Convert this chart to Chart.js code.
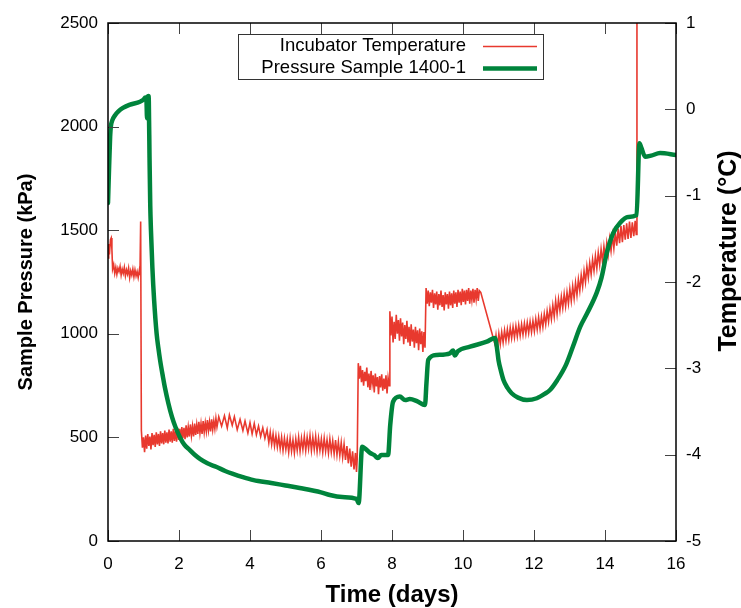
<!DOCTYPE html>
<html lang="en">
<head>
  <meta charset="UTF-8">
  <title>Sample Pressure 1400-1</title>
  <script src="https://cdn.jsdelivr.net/npm/chart.js"></script>
  <style>
    body { margin: 0; background: #fff; }
    #chart-container { width: 741px; height: 608px; }
  </style>
</head>
<body>
  <div id="chart-container">
    <canvas id="pressureChart" width="741" height="608"></canvas>
  </div>
  <script>
    // incubator temperature (°C)
    const tempDays = [
      0.00, 0.02, 0.04, 0.07, 0.09, 0.11, 0.13, 0.16, 0.19, 0.22,
      0.25, 0.28, 0.31, 0.34, 0.37, 0.40, 0.43, 0.46, 0.49, 0.52,
      0.55, 0.58, 0.61, 0.64, 0.67, 0.70, 0.73, 0.76, 0.79, 0.82,
      0.85, 0.88, 0.90, 0.92, 0.94,
      0.97, 1.00, 1.03, 1.06, 1.09, 1.12, 1.15, 1.18, 1.21, 1.24,
      1.27, 1.30, 1.33, 1.36, 1.39, 1.42, 1.45, 1.48, 1.51, 1.54,
      1.57, 1.60, 1.63, 1.66, 1.69, 1.72, 1.75, 1.78, 1.81, 1.84,
      1.87, 1.90, 1.93, 1.96, 1.99, 2.02, 2.05, 2.08, 2.11, 2.14,
      2.17, 2.20, 2.23, 2.26, 2.29, 2.32, 2.35, 2.38, 2.41, 2.44,
      2.47, 2.50, 2.53, 2.56, 2.59, 2.62, 2.65, 2.68, 2.71, 2.74,
      2.77, 2.80, 2.83, 2.86, 2.89, 2.92, 2.95, 2.98, 3.01, 3.04,
      3.07,
      3.12, 3.20, 3.28, 3.36, 3.42, 3.50, 3.56, 3.64, 3.72, 3.80,
      3.86, 3.94, 4.00, 4.06, 4.12, 4.18, 4.24, 4.30, 4.36, 4.42,
      4.48,
      4.53, 4.57, 4.61, 4.65, 4.69, 4.73, 4.77, 4.81, 4.85, 4.89,
      4.93, 4.97, 5.01, 5.05, 5.09, 5.13, 5.17, 5.21, 5.25, 5.29,
      5.33, 5.37, 5.41, 5.45, 5.49, 5.53, 5.57, 5.61, 5.65, 5.69,
      5.73, 5.77, 5.81, 5.85, 5.89, 5.93, 5.97, 6.01, 6.05, 6.09,
      6.13, 6.17, 6.21, 6.25, 6.29, 6.33, 6.37, 6.41, 6.45, 6.49,
      6.53, 6.57, 6.61, 6.65, 6.69, 6.73, 6.77, 6.81, 6.85, 6.89,
      6.93, 6.97, 7.00, 7.02,
      7.05, 7.08, 7.11, 7.14, 7.17, 7.20, 7.23, 7.26, 7.29, 7.32,
      7.35, 7.38, 7.41, 7.44, 7.47, 7.50, 7.53, 7.56, 7.59, 7.62,
      7.65, 7.68, 7.71, 7.74, 7.77, 7.80, 7.83, 7.86, 7.89, 7.92,
      7.94, 7.97, 8.00, 8.03, 8.06, 8.09, 8.12, 8.15, 8.18, 8.21,
      8.24, 8.27, 8.30, 8.33, 8.36, 8.39, 8.42, 8.45, 8.48, 8.51,
      8.54, 8.57, 8.60, 8.63, 8.66, 8.69, 8.72, 8.75, 8.78, 8.81,
      8.84, 8.87, 8.90, 8.93,
      8.96, 8.99, 9.02, 9.05, 9.08, 9.11, 9.14, 9.17, 9.20, 9.23,
      9.26, 9.29, 9.32, 9.35, 9.38, 9.41, 9.44, 9.47, 9.50, 9.53,
      9.56, 9.59, 9.62, 9.65, 9.68, 9.71, 9.74, 9.77, 9.80, 9.83,
      9.86, 9.89, 9.92, 9.95, 9.98, 10.01, 10.04, 10.07, 10.10, 10.13,
      10.16, 10.19, 10.22, 10.25, 10.28, 10.31, 10.34, 10.37, 10.40, 10.43,
      10.46, 10.50,
      10.90,
      10.93, 10.97, 11.01, 11.05, 11.09, 11.13, 11.17, 11.21, 11.25, 11.29,
      11.33, 11.37, 11.41, 11.45, 11.49, 11.53, 11.57, 11.61, 11.65, 11.69,
      11.73, 11.77, 11.81, 11.85, 11.89, 11.93, 11.97, 12.01, 12.05, 12.09,
      12.13, 12.17, 12.21, 12.25, 12.29, 12.33, 12.37, 12.41, 12.45, 12.49,
      12.53, 12.57, 12.61, 12.65, 12.69, 12.73, 12.77, 12.81, 12.85, 12.89,
      12.93, 12.97, 13.01, 13.05, 13.09, 13.13, 13.17, 13.21, 13.25, 13.29,
      13.33, 13.37, 13.41, 13.45, 13.49, 13.53, 13.57, 13.61, 13.65, 13.69,
      13.73, 13.77, 13.81, 13.85, 13.89, 13.93, 13.97, 14.01, 14.05, 14.09,
      14.13, 14.17, 14.21, 14.25, 14.29, 14.33, 14.37, 14.41, 14.45, 14.49,
      14.53, 14.57, 14.61, 14.65, 14.69, 14.73, 14.77, 14.81, 14.85, 14.88,
      14.90
    ];
    const tempValues = [
      -1.72, -1.56, -1.68, -1.51, -1.49, -1.62, -1.85, -1.80, -1.90, -1.83,
      -1.91, -1.84, -1.88, -1.82, -1.92, -1.85, -1.90, -1.83, -1.93, -1.86,
      -1.91, -1.84, -1.95, -1.87, -1.92, -1.85, -1.94, -1.86, -1.93, -1.88,
      -1.95, -1.87, -1.92, -1.30, -3.72,
      -3.92, -3.80, -3.97, -3.78, -3.93, -3.76, -3.90, -3.79, -3.94, -3.75,
      -3.89, -3.77, -3.91, -3.74, -3.88, -3.76, -3.90, -3.73, -3.87, -3.75,
      -3.88, -3.72, -3.86, -3.74, -3.87, -3.71, -3.85, -3.73, -3.86, -3.70,
      -3.84, -3.72, -3.85, -3.69, -3.83, -3.70, -3.82, -3.68, -3.81, -3.69,
      -3.82, -3.66, -3.80, -3.68, -3.79, -3.65, -3.78, -3.67, -3.79, -3.64,
      -3.77, -3.65, -3.76, -3.62, -3.75, -3.64, -3.76, -3.61, -3.74, -3.63,
      -3.73, -3.60, -3.72, -3.62, -3.73, -3.59, -3.71, -3.61, -3.70, -3.58,
      -3.68,
      -3.56, -3.67, -3.55, -3.69, -3.54, -3.66, -3.56, -3.71, -3.59, -3.72,
      -3.61, -3.75, -3.63, -3.76, -3.64, -3.77, -3.67, -3.79, -3.69, -3.81,
      -3.71,
      -3.86, -3.74, -3.88, -3.76, -3.90, -3.78, -3.91, -3.79, -3.93, -3.80,
      -3.95, -3.81, -3.94, -3.82, -3.97, -3.81, -3.96, -3.83, -3.98, -3.82,
      -3.95, -3.80, -3.96, -3.81, -3.94, -3.79, -3.95, -3.80, -3.93, -3.78,
      -3.95, -3.80, -3.94, -3.79, -3.96, -3.81, -3.95, -3.82, -3.97, -3.81,
      -3.96, -3.83, -3.98, -3.82, -3.97, -3.84, -3.99, -3.83, -4.00, -3.85,
      -4.01, -3.86, -4.03, -3.88, -4.06, -3.90, -4.10, -3.93, -4.14, -3.96,
      -4.17, -3.98, -4.20, -4.05,
      -2.94, -3.12, -2.97, -3.16, -3.02, -3.20, -3.04, -3.15, -2.99, -3.22,
      -3.06, -3.25, -3.03, -3.18, -3.08, -3.28, -3.06, -3.21, -3.10, -3.30,
      -3.09, -3.22, -3.07, -3.26, -3.12, -3.24, -3.08, -3.29, -3.11, -3.20,
      -2.34, -2.62, -2.40, -2.70, -2.46, -2.66, -2.38, -2.60, -2.44, -2.68,
      -2.42, -2.63, -2.47, -2.72, -2.50, -2.66, -2.45, -2.70, -2.52, -2.74,
      -2.49, -2.69, -2.55, -2.76, -2.52, -2.71, -2.56, -2.79, -2.54, -2.72,
      -2.57, -2.81, -2.58, -2.76,
      -2.07, -2.25, -2.10, -2.28, -2.12, -2.24, -2.09, -2.30, -2.13, -2.26,
      -2.11, -2.32, -2.14, -2.27, -2.10, -2.29, -2.15, -2.33, -2.12, -2.26,
      -2.14, -2.31, -2.11, -2.27, -2.13, -2.30, -2.10, -2.25, -2.12, -2.29,
      -2.09, -2.24, -2.11, -2.27, -2.08, -2.23, -2.10, -2.26, -2.09, -2.22,
      -2.07, -2.25, -2.10, -2.21, -2.08, -2.24, -2.09, -2.20, -2.07, -2.22,
      -2.10, -2.12,
      -2.72,
      -2.62, -2.76, -2.60, -2.72, -2.58, -2.70, -2.56, -2.68, -2.55, -2.67,
      -2.53, -2.65, -2.52, -2.64, -2.51, -2.63, -2.50, -2.62, -2.49, -2.61,
      -2.48, -2.60, -2.47, -2.59, -2.46, -2.58, -2.45, -2.57, -2.43, -2.55,
      -2.41, -2.54, -2.40, -2.52, -2.37, -2.49, -2.34, -2.46, -2.31, -2.43,
      -2.27, -2.40, -2.22, -2.37, -2.20, -2.33, -2.17, -2.30, -2.14, -2.28,
      -2.12, -2.25, -2.08, -2.22, -2.05, -2.19, -2.01, -2.15, -1.97, -2.10,
      -1.92, -2.05, -1.87, -2.00, -1.82, -1.95, -1.78, -1.91, -1.74, -1.87,
      -1.70, -1.84, -1.66, -1.80, -1.62, -1.77, -1.59, -1.73, -1.55, -1.68,
      -1.50, -1.64, -1.46, -1.61, -1.43, -1.58, -1.38, -1.55, -1.35, -1.54,
      -1.34, -1.51, -1.32, -1.50, -1.30, -1.49, -1.31, -1.47, -1.29, -1.45,
      5.00
    ];

    // sample pressure (kPa), green trace
    const pressureDays = [
      0.00, 0.03, 0.06, 0.08, 0.12, 0.20, 0.30, 0.42, 0.60, 0.90,
      1.00, 1.05, 1.08, 1.10, 1.12, 1.14, 1.15, 1.17, 1.19, 1.21,
      1.25, 1.30, 1.37, 1.42, 1.47, 1.55, 1.60, 1.70, 1.80, 1.90,
      2.03, 2.15, 2.30, 2.45, 2.60, 2.80, 3.06, 3.30, 3.50, 3.80,
      4.10, 4.60, 5.00, 5.40, 6.00, 6.25, 6.60, 7.00, 7.06, 7.16,
      7.25, 7.38, 7.50, 7.60, 7.70, 7.89, 7.95, 8.03, 8.22, 8.37,
      8.50, 8.70, 8.93, 8.97, 9.02, 9.26, 9.63, 9.72, 9.77, 9.85,
      10.20, 10.67, 10.90, 10.95, 11.00, 11.07, 11.14, 11.25, 11.37, 11.55,
      11.80, 12.08, 12.30, 12.45, 12.65, 12.90, 13.10, 13.30, 13.50, 13.77,
      13.90, 14.05, 14.23, 14.42, 14.65, 14.89, 14.97, 15.02, 15.13, 15.30,
      15.55, 16.00
    ];
    const pressureValues = [
      1631, 1800, 1950, 2000, 2030, 2055, 2075, 2090, 2105, 2120,
      2130, 2140, 2140, 2040, 2145, 2148, 2120, 1850, 1620, 1500,
      1320, 1160, 1000, 930, 870, 790, 743, 665, 600, 550,
      500, 465, 440, 415, 395, 375, 357, 338, 325, 308,
      294, 280, 268, 256, 235, 222, 212, 203, 183, 455,
      445, 425, 415, 400, 415, 415, 560, 672, 697, 680,
      685, 675, 656, 760, 874, 898, 906, 920, 895, 915,
      938, 962, 980, 940, 873, 820, 777, 740, 713, 692,
      680, 689, 710, 729, 775, 850, 940, 1033, 1100, 1200,
      1270, 1390, 1486, 1535, 1564, 1573, 1920, 1900, 1855, 1860,
      1872, 1863
    ];

    const xTickValues = [0, 2, 4, 6, 8, 10, 12, 14, 16];
    const pressureTickValues = [0, 500, 1000, 1500, 2000, 2500];
    const tempTickValues = [-5, -4, -3, -2, -1, 0, 1];

    const FONT = '"Liberation Sans", Arial, Helvetica, sans-serif';

    const tempPoints = tempDays.map((d, i) => ({ x: d, y: tempValues[i] }));
    const pressurePoints = pressureDays.map((d, i) => ({ x: d, y: pressureValues[i] }));

    // inward ticks, box, right-hand title and the legend box
    const framePlugin = {
      id: 'frame',
      afterDraw(chart) {
        const { ctx, chartArea: a, scales } = chart;
        const tl = 11;
        ctx.save();

        ctx.strokeStyle = '#444';
        ctx.lineWidth = 1;
        ctx.beginPath();
        scales.x.ticks.forEach(t => {
          const px = Math.round(scales.x.getPixelForValue(t.value)) + 0.5;
          ctx.moveTo(px, a.bottom); ctx.lineTo(px, a.bottom - tl);
          ctx.moveTo(px, a.top); ctx.lineTo(px, a.top + tl);
        });
        scales.yPressure.ticks.forEach(t => {
          const py = Math.round(scales.yPressure.getPixelForValue(t.value)) + 0.5;
          ctx.moveTo(a.left, py); ctx.lineTo(a.left + tl, py);
        });
        scales.yTemp.ticks.forEach(t => {
          const py = Math.round(scales.yTemp.getPixelForValue(t.value)) + 0.5;
          ctx.moveTo(a.right, py); ctx.lineTo(a.right - tl, py);
        });
        ctx.stroke();

        ctx.strokeStyle = '#000';
        ctx.lineWidth = 1.5;
        ctx.strokeRect(a.left, a.top, a.right - a.left, a.bottom - a.top);

        // right axis title reads bottom-to-top like the left one
        ctx.fillStyle = '#000';
        ctx.font = 'bold 25px ' + FONT;
        ctx.textAlign = 'center';
        ctx.textBaseline = 'middle';
        ctx.translate(729, 251);
        ctx.rotate(-Math.PI / 2);
        ctx.fillText('Temperature (°C)', 0, 0);
        ctx.setTransform(1, 0, 0, 1, 0, 0);

        // legend
        const box = { left: 238, top: 34, right: 543, bottom: 79 };
        ctx.fillStyle = '#fff';
        ctx.fillRect(box.left, box.top, box.right - box.left, box.bottom - box.top);
        ctx.strokeStyle = '#333';
        ctx.lineWidth = 1;
        ctx.strokeRect(box.left + 0.5, box.top + 0.5, box.right - box.left, box.bottom - box.top);
        ctx.font = '18.5px ' + FONT;
        ctx.textAlign = 'right';
        chart.data.datasets.forEach((ds, i) => {
          const y = 46 + i * 21.5;
          ctx.fillStyle = '#000';
          ctx.fillText(ds.label, 466, y);
          ctx.strokeStyle = ds.borderColor;
          ctx.lineWidth = ds.borderWidth;
          ctx.beginPath();
          ctx.moveTo(483, Math.round(y) + 0.5);
          ctx.lineTo(537, Math.round(y) + 0.5);
          ctx.stroke();
        });

        ctx.restore();
      }
    };

    const tickFont = { family: FONT, size: 17 };

    new Chart(document.getElementById('pressureChart'), {
      type: 'line',
      data: {
        datasets: [
          {
            label: 'Incubator Temperature',
            data: tempPoints,
            yAxisID: 'yTemp',
            borderColor: '#e8392e',
            borderWidth: 1.6,
            pointRadius: 0,
            order: 1
          },
          {
            label: 'Pressure Sample 1400-1',
            data: pressurePoints,
            yAxisID: 'yPressure',
            borderColor: '#00843c',
            borderWidth: 4.5,
            borderJoinStyle: 'round',
            borderCapStyle: 'round',
            cubicInterpolationMode: 'monotone',
            pointRadius: 0,
            order: 0
          }
        ]
      },
      options: {
        responsive: false,
        animation: false,
        devicePixelRatio: 1,
        layout: { padding: { top: 23, left: 0, right: 0, bottom: 0 } },
        plugins: {
          legend: { display: false },
          tooltip: { enabled: false }
        },
        scales: {
          x: {
            type: 'linear',
            min: 0,
            max: 16,
            afterFit: s => { s.height = 67; },
            afterBuildTicks: s => { s.ticks = xTickValues.map(v => ({ value: v })); },
            grid: { display: false, drawTicks: false },
            border: { display: false },
            ticks: { color: '#000', font: tickFont, padding: 13, maxRotation: 0 },
            title: {
              display: true,
              text: 'Time (days)',
              color: '#000',
              font: { family: FONT, size: 24, weight: 'bold', lineHeight: 1 },
              padding: { top: 0, bottom: 1 }
            }
          },
          yPressure: {
            type: 'linear',
            position: 'left',
            min: 0,
            max: 2500,
            afterFit: s => { s.width = 108; },
            afterBuildTicks: s => { s.ticks = pressureTickValues.map(v => ({ value: v })); },
            grid: { display: false, drawTicks: false },
            border: { display: false },
            ticks: { color: '#000', font: tickFont, padding: 10, format: { useGrouping: false } },
            title: {
              display: true,
              text: 'Sample Pressure (kPa)',
              color: '#000',
              font: { family: FONT, size: 20, weight: 'bold', lineHeight: 1 },
              padding: { top: 16, bottom: 0 }
            }
          },
          yTemp: {
            type: 'linear',
            position: 'right',
            min: -5,
            max: 1,
            afterFit: s => { s.width = 65; },
            afterBuildTicks: s => { s.ticks = tempTickValues.map(v => ({ value: v })); },
            grid: { display: false, drawTicks: false },
            border: { display: false },
            ticks: { color: '#000', font: tickFont, padding: 10 }
          }
        }
      },
      plugins: [framePlugin]
    });
  </script>
</body>
</html>
